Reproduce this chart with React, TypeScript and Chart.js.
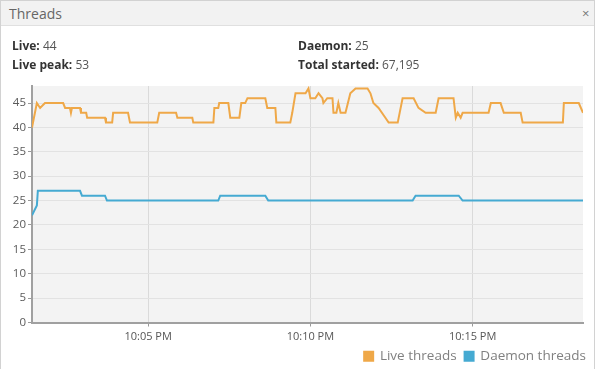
import React, { useEffect, useRef } from "react";
import { Chart, registerables } from "chart.js";

Chart.register(...registerables);

// time in minutes after 10:00 PM
const liveTimes = [1.42, 1.57, 1.67, 1.82, 2.38, 2.44, 2.59, 2.62, 2.65, 2.9, 2.93, 3.09, 3.12, 3.67, 3.7, 3.89, 3.92, 4.38, 4.44, 5.28, 5.34, 5.86, 5.9, 6.36, 6.39, 7.01, 7.04, 7.16, 7.19, 7.47, 7.53, 7.81, 7.87, 7.99, 8.06, 8.61, 8.67, 8.92, 8.95, 9.38, 9.44, 9.54, 9.85, 9.94, 10.0, 10.15, 10.25, 10.37, 10.4, 10.52, 10.68, 10.71, 10.8, 10.86, 10.93, 11.08, 11.23, 11.39, 11.76, 11.85, 11.94, 12.1, 12.31, 12.41, 12.69, 12.84, 13.18, 13.33, 13.55, 13.86, 13.95, 14.41, 14.48, 14.54, 14.63, 14.69, 15.49, 15.56, 15.86, 15.96, 16.48, 16.54, 17.78, 17.81, 18.27, 18.4];
const liveValues = [40, 45, 44, 45, 45, 44, 44, 43, 44, 44, 43, 43, 42, 42, 41, 41, 43, 43, 41, 41, 43, 43, 42, 42, 41, 41, 44, 44, 45, 45, 42, 42, 45, 45, 46, 46, 44, 44, 41, 41, 43, 47, 47, 48, 46, 46, 47, 46, 45, 46, 46, 43, 43, 45, 43, 43, 47, 48, 48, 47, 45, 44, 42, 41, 41, 46, 46, 44, 43, 43, 46, 46, 42, 43, 42, 43, 43, 45, 45, 43, 43, 41, 41, 45, 45, 43];

const daemonTimes = [1.42, 1.57, 1.6, 2.9, 2.96, 3.67, 3.73, 7.16, 7.22, 8.61, 8.7, 13.15, 13.24, 14.57, 14.69, 18.4];
const daemonValues = [22, 24, 27, 27, 26, 26, 25, 25, 26, 26, 25, 25, 26, 26, 25, 25];

const xTickMinutes = [5, 10, 15];
const xTickLabels = ["10:05 PM", "10:10 PM", "10:15 PM"];
const yTicks = [0, 5, 10, 15, 20, 25, 30, 35, 40, 45];

const seriesNames = ["Live threads", "Daemon threads"];
const stats = { live: "44", livePeak: "53", daemon: "25", totalStarted: "67,195" };

const FONT = "'Open Sans', 'DejaVu Sans', sans-serif";

export default function App() {
  const ref = useRef<HTMLCanvasElement | null>(null);

  useEffect(() => {
    if (!ref.current) return;
    const bgPlugin = {
      id: "plotbg",
      beforeDraw(chart: any) {
        const { ctx, chartArea } = chart;
        ctx.save();
        ctx.fillStyle = "#f3f3f3";
        ctx.fillRect(chartArea.left, chartArea.top, chartArea.right - chartArea.left, chartArea.bottom - chartArea.top);
        ctx.restore();
      },
    };
    const legendShift = {
      id: "legendShift",
      afterLayout(chart: any) {
        if (chart.legend) {
          chart.legend.left += 11;
          chart.legend.right += 11;
        }
      },
    };
    const chart = new Chart(ref.current, {
      type: "line",
      data: {
        datasets: [
          {
            label: seriesNames[0],
            data: liveTimes.map((t, i) => ({ x: t, y: liveValues[i] })),
            borderColor: "#efa848",
            backgroundColor: "#efa848",
            borderWidth: 2,
            pointRadius: 0,
            tension: 0,
          },
          {
            label: seriesNames[1],
            data: daemonTimes.map((t, i) => ({ x: t, y: daemonValues[i] })),
            borderColor: "#45aad2",
            backgroundColor: "#45aad2",
            borderWidth: 2,
            pointRadius: 0,
            tension: 0,
          },
        ],
      },
      options: {
        animation: false,
        responsive: false,
        maintainAspectRatio: false,
        layout: { padding: { top: 86, right: 17, left: 0, bottom: 0 } },
        plugins: {
          tooltip: { enabled: false },
          legend: {
            position: "bottom",
            align: "end",
            labels: {
              boxWidth: 9,
              boxHeight: 9,
              padding: 8,
              color: "#808080",
              font: { family: FONT, size: 13.5 },
            },
          },
        },
        scales: {
          x: {
            type: "linear",
            min: liveTimes[0],
            max: liveTimes[liveTimes.length - 1],
            afterBuildTicks: (s: any) => {
              s.ticks = xTickMinutes.map((v) => ({ value: v }));
            },
            afterFit: (s: any) => {
              s.height = 19;
            },
            ticks: {
              autoSkip: false,
              maxRotation: 0,
              color: "#555",
              padding: 4,
              font: { family: FONT, size: 11 },
              callback: (v: any) => {
                const i = xTickMinutes.indexOf(Number(v));
                return i >= 0 ? xTickLabels[i] : "";
              },
            },
            grid: { color: "#dadada", tickLength: 4, tickColor: "#999" },
            border: { color: "#a0a0a0", width: 2 },
          },
          y: {
            min: 0,
            max: 48.5,
            afterBuildTicks: (s: any) => {
              s.ticks = yTicks.map((v) => ({ value: v }));
            },
            afterFit: (s: any) => {
              s.width = 32;
            },
            ticks: {
              color: "#5a5a5a",
              padding: 2,
              font: { family: FONT, size: 11.5 },
            },
            grid: { color: "#e2e2e2", tickLength: 4, tickColor: "#999" },
            border: { color: "#a0a0a0", width: 2 },
          },
        },
      },
      plugins: [bgPlugin, legendShift],
    } as any);
    return () => chart.destroy();
  }, []);

  const label: React.CSSProperties = { fontWeight: 700, color: "#333" };
  const val: React.CSSProperties = { color: "#555" };

  return (
    <div style={{ position: "fixed", left: 0, top: 0, width: 600, height: 369, background: "#fff", fontFamily: FONT, overflow: "hidden" }}>
      <div style={{ position: "absolute", left: 0, top: 0, width: 593, height: 368, border: "1px solid #d2d2d2" }} />
      <div style={{ position: "absolute", left: 1, top: 1, width: 593, height: 24, background: "#f2f2f2", borderBottom: "1px solid #e0e0e0" }} />
      <div style={{ position: "absolute", left: 9, top: 4, fontSize: 14, color: "#666" }}>Threads</div>
      <div style={{ position: "absolute", left: 582, top: 4, fontSize: 13, color: "#777" }}>×</div>
      <canvas ref={ref} width={600} height={373} style={{ position: "absolute", left: 0, top: 0 }} />
      <div style={{ position: "absolute", left: 12, top: 36, fontSize: 12, lineHeight: "19px" }}>
        <div><span style={label}>Live:</span> <span style={val}>{stats.live}</span></div>
        <div><span style={label}>Live peak:</span> <span style={val}>{stats.livePeak}</span></div>
      </div>
      <div style={{ position: "absolute", left: 298, top: 36, fontSize: 12, lineHeight: "19px" }}>
        <div><span style={label}>Daemon:</span> <span style={val}>{stats.daemon}</span></div>
        <div><span style={label}>Total started:</span> <span style={val}>{stats.totalStarted}</span></div>
      </div>
    </div>
  );
}
